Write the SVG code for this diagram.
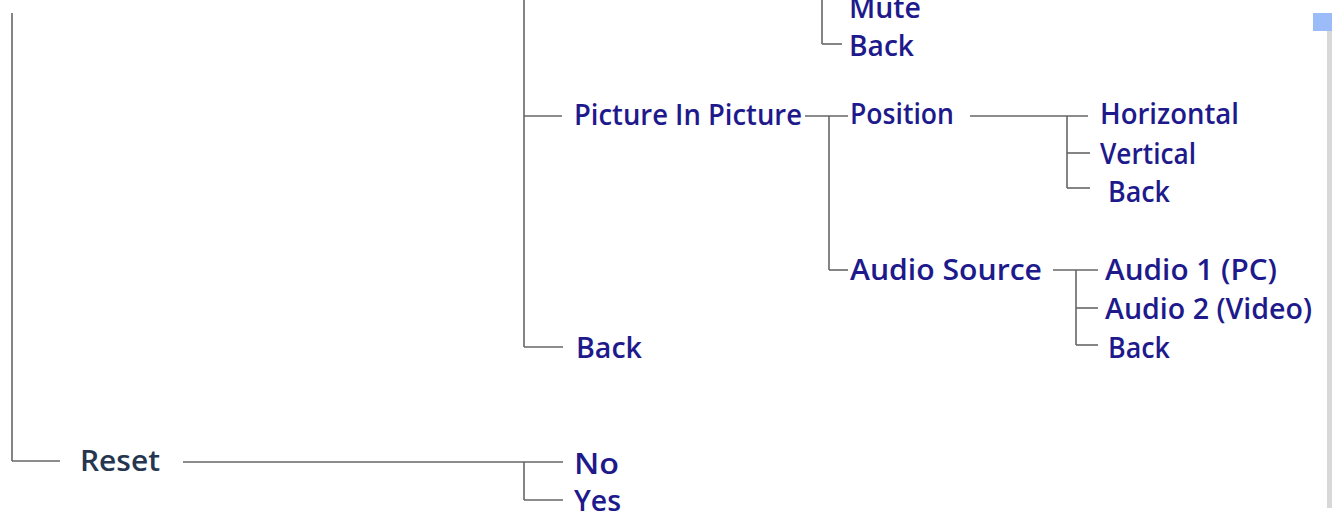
<svg xmlns="http://www.w3.org/2000/svg" width="1332" height="519" viewBox="0 0 1332 519">
<style>
.t{font-family:"Open Sans","Liberation Sans",sans-serif;font-size:29px;font-weight:600;fill:#1e1a8c}
.r{fill:#263650}
.c line{stroke:#666;stroke-width:1.6}
</style>
<rect width="1332" height="519" fill="#fff"/>
<rect x="1313" y="13" width="19" height="18" fill="#9bbcf8"/>
<rect x="1327" y="31" width="5" height="477" fill="#d8d8d8"/>
<g class="c" id="connectors">
<line x1="12" y1="13" x2="12" y2="461"/>
<line x1="12" y1="461" x2="60" y2="461"/>
<line x1="183" y1="462" x2="563" y2="462"/>
<line x1="524" y1="462" x2="524" y2="500"/>
<line x1="524" y1="500" x2="563" y2="500"/>
<line x1="524" y1="0" x2="524" y2="347"/>
<line x1="524" y1="116" x2="562" y2="116"/>
<line x1="524" y1="347" x2="563" y2="347"/>
<line x1="822" y1="0" x2="822" y2="44"/>
<line x1="822" y1="44" x2="842" y2="44"/>
<line x1="805" y1="116" x2="848" y2="116"/>
<line x1="829" y1="116" x2="829" y2="270"/>
<line x1="829" y1="270" x2="848" y2="270"/>
<line x1="970" y1="116" x2="1088" y2="116"/>
<line x1="1067" y1="116" x2="1067" y2="188"/>
<line x1="1067" y1="153" x2="1090" y2="153"/>
<line x1="1067" y1="188" x2="1090" y2="188"/>
<line x1="1053" y1="270" x2="1098" y2="270"/>
<line x1="1076" y1="270" x2="1076" y2="345"/>
<line x1="1076" y1="308" x2="1098" y2="308"/>
<line x1="1076" y1="345" x2="1098" y2="345"/>
</g>
<g id="mute"><text class="t" x="849" y="18" textLength="72" lengthAdjust="spacingAndGlyphs">Mute</text></g>
<g id="back-top"><text class="t" x="849" y="56" textLength="65" lengthAdjust="spacingAndGlyphs">Back</text></g>
<g id="pip"><text class="t" x="574" y="125" textLength="228" lengthAdjust="spacingAndGlyphs">Picture In Picture</text></g>
<g id="position"><text class="t" x="850" y="124" textLength="104" lengthAdjust="spacingAndGlyphs">Position</text></g>
<g id="horizontal"><text class="t" x="1100" y="124" textLength="139" lengthAdjust="spacingAndGlyphs">Horizontal</text></g>
<g id="vertical"><text class="t" x="1100" y="164" textLength="96" lengthAdjust="spacingAndGlyphs">Vertical</text></g>
<g id="back-pos"><text class="t" x="1108" y="202" textLength="62" lengthAdjust="spacingAndGlyphs">Back</text></g>
<g id="audio-source"><text class="t" x="850" y="280" textLength="192" lengthAdjust="spacingAndGlyphs">Audio Source</text></g>
<g id="audio1"><text class="t" x="1105" y="280" textLength="172" lengthAdjust="spacingAndGlyphs">Audio 1 (PC)</text></g>
<g id="audio2"><text class="t" x="1105" y="319" textLength="207" lengthAdjust="spacingAndGlyphs">Audio 2 (Video)</text></g>
<g id="back-audio"><text class="t" x="1108" y="358" textLength="62" lengthAdjust="spacingAndGlyphs">Back</text></g>
<g id="back-main"><text class="t" x="576" y="358" textLength="66" lengthAdjust="spacingAndGlyphs">Back</text></g>
<g id="reset"><text class="t r" x="80" y="471" textLength="80" lengthAdjust="spacingAndGlyphs">Reset</text></g>
<g id="no"><text class="t" x="574" y="474" textLength="45" lengthAdjust="spacingAndGlyphs">No</text></g>
<g id="yes"><text class="t" x="574" y="511" textLength="47" lengthAdjust="spacingAndGlyphs">Yes</text></g>
</svg>
